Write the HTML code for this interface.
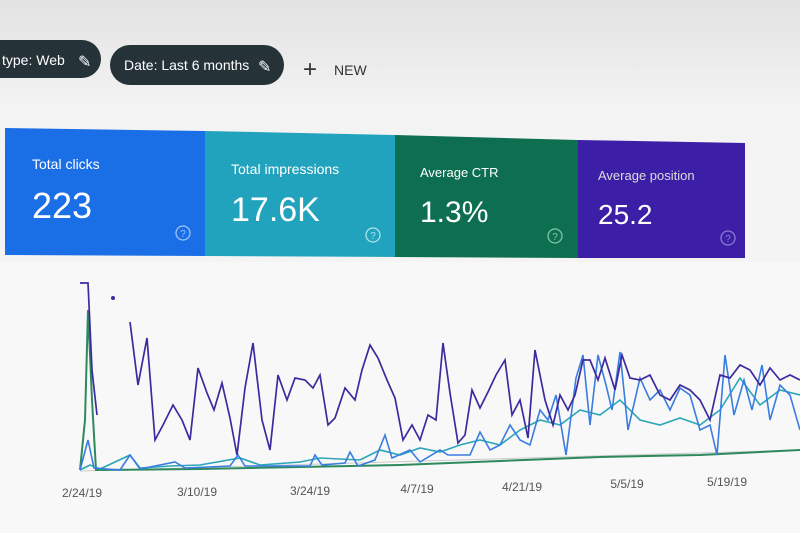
<!DOCTYPE html>
<html><head><meta charset="utf-8"><style>
html,body{margin:0;padding:0;width:800px;height:533px;overflow:hidden;background:#f2f2f2;font-family:"Liberation Sans",sans-serif}
</style></head><body>
<svg width="800" height="533" viewBox="0 0 800 533" xmlns="http://www.w3.org/2000/svg" font-family="Liberation Sans, sans-serif">
<defs><linearGradient id="bg" x1="0" y1="0" x2="0" y2="1"><stop offset="0" stop-color="#e2e2e2"/><stop offset="0.2" stop-color="#f3f3f3"/><stop offset="1" stop-color="#f7f7f7"/></linearGradient></defs>
<rect width="800" height="533" fill="url(#bg)"/>
<!-- chips -->
<rect x="-20" y="40" width="121" height="38" rx="19" fill="#253238"/>
<text x="2" y="65" fill="#fff" font-size="14">type: Web</text>
<text x="78" y="67" fill="#fff" font-size="16">✎</text>
<rect x="110" y="45" width="174" height="40" rx="20" fill="#253238"/>
<text x="124" y="70" fill="#fff" font-size="14">Date: Last 6 months</text>
<text x="258" y="72" fill="#fff" font-size="16">✎</text>
<text x="303" y="77" fill="#333" font-size="24">+</text>
<text x="334" y="75" fill="#333" font-size="14">NEW</text>
<!-- cards -->
<polygon points="5,128 205,131 205,256 5,255" fill="#1a6fe6"/>
<polygon points="205,131 395,135 395,257 205,256" fill="#22a3bd"/>
<polygon points="395,135 578,140 578,258 395,257" fill="#0e6e50"/>
<polygon points="578,140 745,143 745,258 578,258" fill="#3c1fa6"/>
<g fill="#fff">
<text x="32" y="169" font-size="14">Total clicks</text>
<text x="32" y="218" font-size="36">223</text>
<text x="231" y="174" font-size="14">Total impressions</text>
<text x="231" y="221" font-size="34">17.6K</text>
<text x="420" y="177" font-size="13">Average CTR</text>
<text x="420" y="222" font-size="30">1.3%</text>
<text x="598" y="180" font-size="13" fill="#ddd">Average position</text>
<text x="598" y="224" font-size="28">25.2</text>
</g>
<g fill="none" stroke-width="1.3">
<circle cx="183" cy="233" r="7" stroke="#9cc4ff"/><circle cx="373" cy="235" r="7" stroke="#a9e3ee"/>
<circle cx="555" cy="236" r="7" stroke="#7fc6aa"/><circle cx="728" cy="238" r="7" stroke="#8d7bd0"/>
</g>
<g font-size="10" text-anchor="middle">
<text x="183" y="237" fill="#9cc4ff">?</text><text x="373" y="239" fill="#a9e3ee">?</text>
<text x="555" y="240" fill="#7fc6aa">?</text><text x="728" y="242" fill="#8d7bd0">?</text>
</g>
<rect x="0" y="262" width="800" height="271" fill="#f8f8f8"/>
<line x1="80" y1="471" x2="800" y2="450" stroke="#ccc"/>
<!-- lines -->
<polyline fill="none" stroke="#2e8a5c" stroke-width="2" points="80,470 85,420 88,310 92,400 96,470 200,469 300,467 400,465 500,461 600,457 700,455 800,450"/>
<polyline fill="none" stroke="#2aa6b8" stroke-width="1.6" points="80,470 90,465 100,469 130,455 140,468 170,466 200,465 240,458 260,465 300,462 320,458 360,460 380,450 400,455 420,448 440,452 460,445 480,440 500,445 520,430 540,420 560,425 580,410 600,415 620,400 640,420 660,425 680,418 700,425 720,410 740,378 760,405 780,390 800,395"/>
<polyline fill="none" stroke="#3a7de0" stroke-width="1.6" points="80,470 88,440 94,468 120,470 130,455 140,469 175,462 185,468 230,466 238,455 245,466 310,466 315,455 322,465 345,463 350,452 358,466 375,460 385,435 392,458 410,450 420,462 440,450 448,455 470,455 480,432 490,450 500,445 510,425 520,440 530,445 540,410 548,420 556,395 566,455 576,378 583,355 590,425 598,355 606,385 612,410 620,352 628,430 640,378 650,400 660,390 670,410 680,388 690,395 700,430 710,425 717,455 725,355 734,415 744,380 752,410 762,365 770,420 780,385 790,395 800,430"/>
<polyline fill="none" stroke="#3e2a9e" stroke-width="1.7" points="80,283 88,283 92,370 97,415"/>
<polyline fill="none" stroke="#3e2a9e" stroke-width="1.7" points="130,322 138,385 147,338 155,440 163,425 173,405 182,420 190,440 198,368 207,393 214,410 222,383 230,418 237,455 245,388 253,343 262,420 270,450 278,375 287,400 295,378 305,380 313,388 320,375 328,425 335,418 345,388 355,400 362,370 370,345 378,358 387,380 395,398 403,440 412,425 420,440 428,415 436,420 443,343 450,393 458,443 465,435 472,390 480,408 488,392 496,375 505,360 512,415 520,400 528,438 535,350 545,400 553,425 560,395 568,410 575,395 583,360 590,360 598,380 605,358 615,390 622,355 630,378 640,380 650,375 660,395 670,400 680,385 690,390 700,400 710,420 720,375 730,378 740,365 750,370 760,385 770,368 780,380 790,375 800,380"/>
<circle cx="113" cy="298" r="2" fill="#3e2a9e"/>
<g fill="#555" font-size="12" text-anchor="middle">
<text x="82" y="497">2/24/19</text><text x="197" y="496">3/10/19</text><text x="310" y="495">3/24/19</text>
<text x="417" y="493">4/7/19</text><text x="522" y="491">4/21/19</text><text x="627" y="488">5/5/19</text><text x="727" y="486">5/19/19</text>
</g>
</svg>
</body></html>
